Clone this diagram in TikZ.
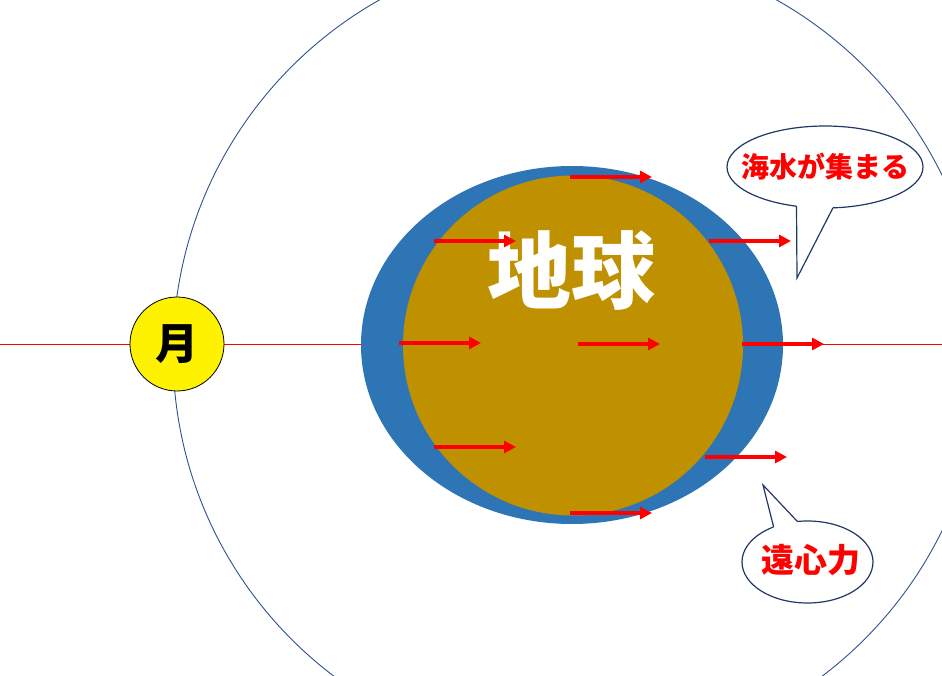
\documentclass[tikz,border=0pt]{standalone}
\usepackage{fontspec}
\newfontfamily\jp{Noto Sans CJK JP}
\usetikzlibrary{arrows.meta,shapes.geometric,calc}
\definecolor{ocean}{RGB}{46,117,182}
\definecolor{land}{RGB}{191,144,0}
\definecolor{orbit}{RGB}{47,82,143}
\definecolor{navy}{RGB}{32,56,100}
\begin{document}
\begin{tikzpicture}[x=1pt,y=-1pt,
  force/.style={red, line width=4pt, -{Triangle[length=12pt,width=12pt]}},
  callout/.style={ellipse, draw=navy, line width=1.2pt, fill=white, inner sep=0pt, outer sep=0pt},
  calltext/.style={text=red, inner sep=0pt, font=\jp\bfseries\fontsize{#1}{#1}\selectfont},
  pointer/.style={draw=navy, line width=1.2pt, line join=miter}
]
\useasboundingbox[fill=white] (0,0) rectangle (942,676);
% axis line
\draw[red, line width=0.9pt] (0,344) -- (942,344);
% orbit
\draw[orbit, line width=0.9pt] (578,353) circle[radius=405];
% earth
\node[ellipse, fill=ocean, minimum width=422pt, minimum height=358pt, inner sep=0pt] (ocean) at (572,345) {};
\node[circle, fill=land, minimum size=340pt, inner sep=0pt] (land) at (573,345.5) {};
\node[inner sep=0pt, text=white, font=\jp\bfseries\fontsize{84}{84}\selectfont] (earthlabel) at (571,270) {地球};
% forces
\foreach \x/\y in {570/177, 434/241, 709/241, 399/343, 578/344, 742/344, 434/447, 705/457, 570/513}
  \draw[force] (\x,\y) -- ++(82,0);
% moon
\node[circle, draw=black, line width=0.8pt, fill=yellow, minimum size=94pt, inner sep=0pt,
      font=\jp\bfseries\fontsize{43}{43}\selectfont] (moon) at (177,344) {月};
% callout 1
\node[callout, minimum width=196pt, minimum height=82pt] (c1) at (825,167) {};
\node[calltext=28] (t1) at (825,167) {海水が集まる};
\coordinate (p1) at (797,278);
\fill[white] (c1.234.5) -- (p1) -- (c1.281.1) -- ($(c1.281.1)+(0,-3)$) -- ($(c1.234.5)+(0,-3)$) -- cycle;
\draw[pointer] (c1.234.5) -- (p1) -- (c1.281.1);
% callout 2
\node[callout, minimum width=131pt, minimum height=82pt] (c2) at (807.5,562) {};
\node[calltext=33] (t2) at (811,560) {遠心力};
\coordinate (p2) at (763,485);
\fill[white] (c2.134.7) -- (p2) -- (c2.104.5) -- ($(c2.104.5)+(0,3)$) -- ($(c2.134.7)+(0,3)$) -- cycle;
\draw[pointer] (c2.134.7) -- (p2) -- (c2.104.5);
\end{tikzpicture}
\end{document}
